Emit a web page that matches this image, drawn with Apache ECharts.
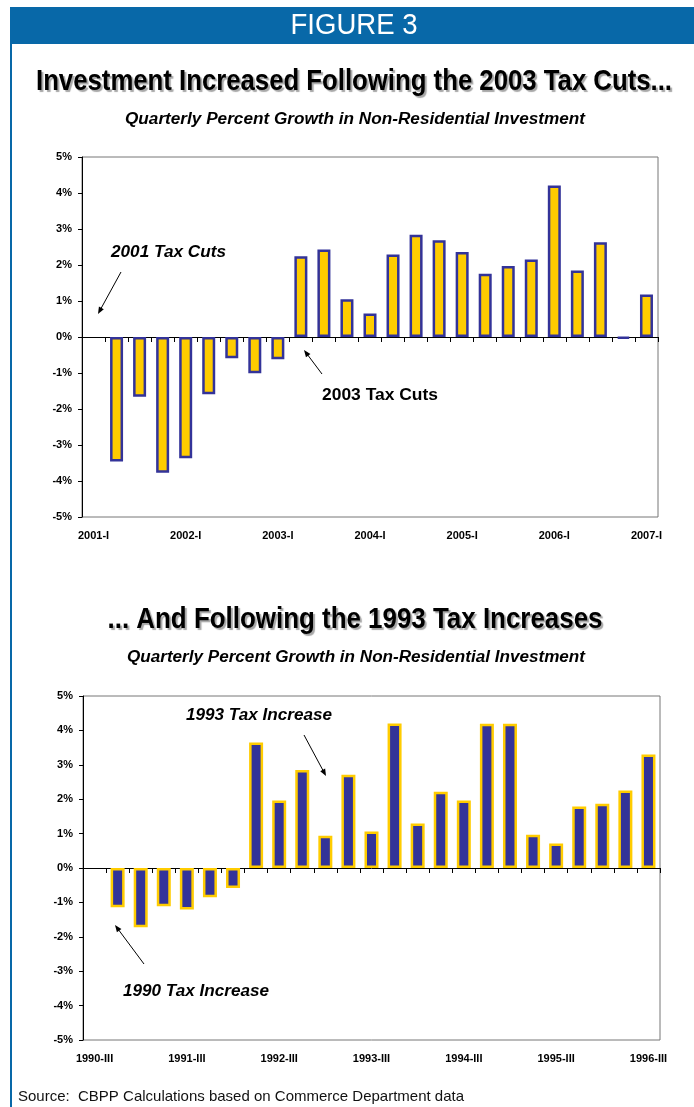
<!DOCTYPE html>
<html>
<head>
<meta charset="utf-8">
<script src="https://cdn.jsdelivr.net/npm/echarts@6/dist/echarts.min.js"></script>
<style>
  html, body { margin: 0; padding: 0; background: #ffffff; }
  #chart { width: 694px; height: 1107px; }
</style>
</head>
<body>
<div id="chart"></div>
<script>
// Quarterly percent growth in non-residential investment, 2001-I .. 2007-I
const cutsQuarters = [
  '2001-I', '2001-II', '2001-III', '2001-IV',
  '2002-I', '2002-II', '2002-III', '2002-IV',
  '2003-I', '2003-II', '2003-III', '2003-IV',
  '2004-I', '2004-II', '2004-III', '2004-IV',
  '2005-I', '2005-II', '2005-III', '2005-IV',
  '2006-I', '2006-II', '2006-III', '2006-IV',
  '2007-I'
];
const cutsGrowth = [
  null, -3.46, -1.66, -3.77, -3.37, -1.59, -0.59, -1.01, -0.62,
  2.24, 2.43, 1.05, 0.65, 2.29, 2.84, 2.69, 2.36,
  1.76, 1.97, 2.15, 4.21, 1.85, 2.63, -0.04, 1.18
];

// Quarterly percent growth in non-residential investment, 1990-III .. 1996-III
const increaseQuarters = [
  '1990-III', '1990-IV', '1991-I', '1991-II',
  '1991-III', '1991-IV', '1992-I', '1992-II',
  '1992-III', '1992-IV', '1993-I', '1993-II',
  '1993-III', '1993-IV', '1994-I', '1994-II',
  '1994-III', '1994-IV', '1995-I', '1995-II',
  '1995-III', '1995-IV', '1996-I', '1996-II',
  '1996-III'
];
const increaseGrowth = [
  null, -1.14, -1.72, -1.11, -1.21, -0.85, -0.58,
  3.65, 1.96, 2.85, 0.94, 2.71, 1.06, 4.20, 1.29,
  2.22, 1.96, 4.19, 4.19, 0.97, 0.71, 1.79, 1.87, 2.25, 3.30
];

const percentTicks = { min: -5, max: 5, interval: 1 };

const BLUE = '#0868A8';
const NAVY = '#333399';
const GOLD = '#FFCC00';
const LABEL_FONT = 'Liberation Sans, Arial, sans-serif';

const measureCtx = document.createElement('canvas').getContext('2d');
function fitScale(text, font, width) {
  measureCtx.font = font;
  return width / measureCtx.measureText(text).width;
}

function placedText(text, x, y, font, opts) {
  opts = opts || {};
  const el = {
    type: 'text',
    x: x, y: y,
    z: 10,
    style: Object.assign({
      text: text,
      font: font,
      fill: opts.fill || '#000',
      align: opts.align || 'center',
      verticalAlign: 'middle',
      textAlign: opts.align || 'center',
      textVerticalAlign: 'middle'
    }, opts.style || {})
  };
  if (opts.width) el.scaleX = fitScale(text, font, opts.width);
  return el;
}

function arrow(x1, y1, x2, y2) {
  const a = Math.atan2(y2 - y1, x2 - x1);
  const L = 7, W = 2.8;
  const c = Math.cos(a), s = Math.sin(a);
  return [
    { type: 'line', z: 10, shape: { x1: x1, y1: y1, x2: x2 - c * 4, y2: y2 - s * 4 },
      style: { stroke: '#000', lineWidth: 1 } },
    { type: 'polygon', z: 10, shape: { points: [
        [x2, y2],
        [x2 - L * c + W * s, y2 - L * s - W * c],
        [x2 - L * c - W * s, y2 - L * s + W * c]
      ] }, style: { fill: '#000' } }
  ];
}

function valueAxis(gridIndex) {
  return {
    type: 'value', gridIndex: gridIndex,
    min: percentTicks.min, max: percentTicks.max, interval: percentTicks.interval,
    axisLine: { show: true, lineStyle: { color: '#000', width: 1 } },
    axisTick: { show: true, length: 4, lineStyle: { color: '#000' } },
    splitLine: { show: false },
    axisLabel: {
      formatter: '{value}%', margin: 10,
      fontFamily: LABEL_FONT, fontWeight: 'bold', fontSize: 11, color: '#000'
    }
  };
}

function categoryAxes(gridIndex, cats) {
  return [
    { // zero line with quarter ticks
      type: 'category', gridIndex: gridIndex, data: cats, position: 'bottom',
      axisLine: { show: true, onZero: true, lineStyle: { color: '#000', width: 1 } },
      axisTick: { show: true, interval: 0, length: 5, lineStyle: { color: '#000' } },
      axisLabel: { show: false },
      splitLine: { show: false }
    },
    { // yearly labels along the bottom edge
      type: 'category', gridIndex: gridIndex, data: cats, position: 'bottom',
      axisLine: { show: false, onZero: false },
      axisTick: { show: false },
      splitLine: { show: false },
      axisLabel: {
        interval: 3, margin: 13, hideOverlap: false,
        fontFamily: LABEL_FONT, fontWeight: 'bold', fontSize: 11, color: '#000'
      }
    }
  ];
}

const titleFont = 'bold 30px "Liberation Sans", Arial, sans-serif';
const subFont = 'italic bold 16px "Liberation Sans", Arial, sans-serif';
const noteItalic = 'italic bold 17px "Liberation Sans", Arial, sans-serif';
const noteUpright = 'bold 17px "Liberation Sans", Arial, sans-serif';
const titleShadow = { textShadowColor: 'rgba(0,0,0,0.35)', textShadowOffsetX: 2, textShadowOffsetY: 2, textShadowBlur: 1 };

const graphics = [
  // header band and left rule
  { type: 'rect', shape: { x: 10, y: 7, width: 684, height: 37 }, style: { fill: BLUE } },
  { type: 'rect', shape: { x: 10, y: 44, width: 2, height: 1063 }, style: { fill: BLUE } },
  placedText('FIGURE 3', 354, 26, '29px "Liberation Sans", Arial, sans-serif', { fill: '#fff', width: 127 }),

  placedText('Investment Increased Following the 2003 Tax Cuts...', 354, 82, titleFont,
    { width: 636, style: titleShadow }),
  placedText('Quarterly Percent Growth in Non-Residential Investment', 355, 120, subFont, { width: 460 }),

  placedText('... And Following the 1993 Tax Increases', 355, 620, titleFont,
    { width: 495, style: titleShadow }),
  placedText('Quarterly Percent Growth in Non-Residential Investment', 356, 658, subFont, { width: 458 }),

  // annotations
  placedText('2001 Tax Cuts', 111, 252, noteItalic, { align: 'left', width: 115 }),
  placedText('2003 Tax Cuts', 322, 395, noteUpright, { align: 'left', width: 116 }),
  placedText('1993 Tax Increase', 186, 715, noteItalic, { align: 'left', width: 146 }),
  placedText('1990 Tax Increase', 123, 991, noteItalic, { align: 'left', width: 146 }),

  placedText('Source:  CBPP Calculations based on Commerce Department data', 18, 1097,
    '15px "Liberation Sans", Arial, sans-serif', { align: 'left', fill: '#111' })
]
  .concat(arrow(121, 272, 98, 314))
  .concat(arrow(322, 374, 304, 350))
  .concat(arrow(304, 735, 326, 776))
  .concat(arrow(144, 964, 115, 925));

const chart = echarts.init(document.getElementById('chart'), null, { renderer: 'canvas' });

chart.setOption({
  animation: false,
  backgroundColor: '#ffffff',
  grid: [
    { left: 82, top: 157, width: 576, height: 360, show: true, borderColor: '#777', borderWidth: 1, backgroundColor: 'transparent' },
    { left: 83, top: 696, width: 577, height: 344, show: true, borderColor: '#777', borderWidth: 1, backgroundColor: 'transparent' }
  ],
  xAxis: categoryAxes(0, cutsQuarters).concat(categoryAxes(1, increaseQuarters)),
  yAxis: [valueAxis(0), valueAxis(1)],
  series: [
    {
      name: '2001-2007', type: 'bar', xAxisIndex: 0, yAxisIndex: 0,
      data: cutsGrowth, barWidth: 13,
      itemStyle: { color: GOLD, borderColor: NAVY, borderWidth: 2.5 }
    },
    {
      name: '1990-1996', type: 'bar', xAxisIndex: 2, yAxisIndex: 1,
      data: increaseGrowth, barWidth: 14,
      itemStyle: { color: NAVY, borderColor: GOLD, borderWidth: 2.5 }
    }
  ],
  graphic: graphics
});
</script>
</body>
</html>
